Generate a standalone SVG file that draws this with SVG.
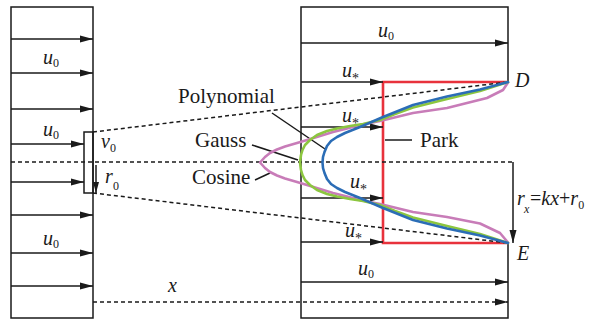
<svg xmlns="http://www.w3.org/2000/svg" width="595" height="327" viewBox="0 0 595 327">
<style>
.ln{fill:none;stroke:#1a1a1a;stroke-width:1.5}
.ar{fill:none;stroke:#1a1a1a;stroke-width:1.5;marker-end:url(#ah)}
.dash{fill:none;stroke:#1a1a1a;stroke-width:1.5;stroke-dasharray:4 3}
.t{font-family:'Liberation Serif','DejaVu Serif','Times New Roman',serif;font-size:21px;fill:#1a1a1a}
.m{font-family:'Liberation Serif','DejaVu Serif','Times New Roman',serif;font-size:20px;font-style:italic;fill:#1a1a1a}
.s{font-size:12px;font-style:normal}
.st{font-size:14px;font-style:normal}
.curve{fill:none;stroke-width:2.6;stroke-linejoin:round;stroke-linecap:round}
</style>
<defs>
<marker id="ah" markerUnits="userSpaceOnUse" markerWidth="13" markerHeight="8" refX="13" refY="4" orient="auto">
<path d="M0,0.5 L13,4 L0,7.5 z" fill="#1a1a1a"/>
</marker>
<marker id="ahs" markerUnits="userSpaceOnUse" markerWidth="11" markerHeight="6" refX="11" refY="3" orient="auto">
<path d="M0,0 L11,3 L0,6 z" fill="#1a1a1a"/>
</marker>
</defs>
<rect width="595" height="327" fill="#ffffff"/>

<g id="left-box">
<path class="ln" d="M11,7 H93 V318 H11 Z"/>
<rect x="84" y="132" width="9" height="61" class="ln" fill="#fff"/>
</g>

<g id="right-box">
<path class="ln" d="M508,82 V7 H301 V318 H508 V243"/>
</g>

<g id="park">
<path d="M508,82 H383 V243 H508" fill="none" stroke="#e8323c" stroke-width="2.6"/>
</g>

<g id="connectors">
<line class="ar" x1="11" y1="39" x2="93" y2="39"/>
<line class="ar" x1="11" y1="73" x2="93" y2="73"/>
<line class="ar" x1="11" y1="109" x2="93" y2="109"/>
<line class="ar" x1="11" y1="144" x2="84" y2="144"/>
<line class="ar" x1="11" y1="182" x2="84" y2="182"/>
<line class="ar" x1="11" y1="215" x2="93" y2="215"/>
<line class="ar" x1="11" y1="253" x2="93" y2="253"/>
<line class="ar" x1="11" y1="286" x2="93" y2="286"/>
<line class="ln" x1="96" y1="165" x2="96" y2="193" style="marker-end:url(#ahs)"/>
<line class="ar" x1="301" y1="43" x2="508" y2="43"/>
<line class="ar" x1="301" y1="82" x2="383" y2="82"/>
<line class="ar" x1="301" y1="127" x2="383" y2="127"/>
<line class="ar" x1="301" y1="198" x2="383" y2="198"/>
<line class="ar" x1="301" y1="242" x2="383" y2="242"/>
<line class="ar" x1="301" y1="282" x2="508" y2="282"/>
<line class="dash" x1="93" y1="132" x2="508" y2="82"/>
<line class="dash" x1="93" y1="193" x2="508" y2="243"/>
<line class="dash" x1="11" y1="162" x2="513" y2="162"/>
<line class="dash" x1="93" y1="302" x2="508" y2="302" style="marker-end:url(#ah)"/>
<line class="ar" x1="513" y1="162" x2="513" y2="243"/>
<line class="ln" x1="272" y1="113" x2="325" y2="149"/>
<line class="ln" x1="252" y1="145" x2="298" y2="160"/>
<line class="ln" x1="255" y1="180" x2="270" y2="173"/>
<line class="ln" x1="385" y1="140" x2="412" y2="140"/>
</g>

<g id="cosine">
<polyline class="curve" stroke="#c87cb8" points="508,82.5 503,90 487,98 447,108 413,113 380,121 360,125 347,128.5 333,132 320,136 307,140 297,143 285,146.5 277,149.5 270,153 265,157 260,162.5 265,168 270,172 277,175.5 285,178.5 297,182 307,185 320,189 333,193 347,196.5 360,200 380,204 413,212 447,217 480,223.5 500,233 508,242.5"/>
</g>
<g id="gauss">
<polyline class="curve" stroke="#8cc63f" points="508,82 480,91 447,99 413,107.5 395,114 380,120 363,124 350,126 337,128.5 327,131 317,135 310,140 305,145 302.5,150 301,155 300,162.5 301,170 302.5,175 305,180 310,185 317,190 327,194 337,196.5 350,199 363,201 380,205 395,211 413,217.5 447,226 480,234 508,243"/>
</g>
<g id="polynomial">
<polyline class="curve" stroke="#2b6db6" points="508,82 480,89.5 447,96.5 413,105 383,117 360,127 345,133 337,137 331,141 327,146 324.5,152 323,157 322.5,162.5 323,168 324.5,173 327,179 331,184 337,188 345,192 360,198 383,208 413,220 447,228.5 480,235.5 508,243"/>
</g>

<g id="labels">
<text class="m" x="43" y="64">u<tspan class="s" dy="3">0</tspan></text>
<text class="m" x="43" y="136">u<tspan class="s" dy="3">0</tspan></text>
<text class="m" x="43" y="245">u<tspan class="s" dy="3">0</tspan></text>
<text class="m" x="101" y="148">v<tspan class="s" dy="3.5">0</tspan></text>
<text class="m" x="105" y="183">r<tspan class="s" x="113" dy="7">0</tspan></text>
<text class="m" x="168" y="292">x</text>
<text class="m" x="378" y="37">u<tspan class="s" dy="3">0</tspan></text>
<text class="m" x="358" y="275">u<tspan class="s" dy="3">0</tspan></text>
<text class="m" x="342" y="77">u<tspan class="st" dy="6">*</tspan></text>
<text class="m" x="342" y="122">u<tspan class="st" dy="6">*</tspan></text>
<text class="m" x="350" y="188">u<tspan class="st" dy="6">*</tspan></text>
<text class="m" x="345" y="237">u<tspan class="st" dy="6">*</tspan></text>
<text class="m" x="515" y="87">D</text>
<text class="m" x="517" y="260">E</text>
<text class="m" x="517" y="205">r<tspan style="font-size:12px" x="524" y="213">x</tspan><tspan style="font-style:normal" x="530" y="205">=</tspan><tspan>kx</tspan><tspan style="font-style:normal">+</tspan><tspan>r</tspan><tspan class="s" dy="4">0</tspan></text>
<text class="t" x="178" y="103">Polynomial</text>
<text class="t" x="195" y="147">Gauss</text>
<text class="t" x="192" y="184">Cosine</text>
<text class="t" x="420" y="147">Park</text>
</g>
</svg>
